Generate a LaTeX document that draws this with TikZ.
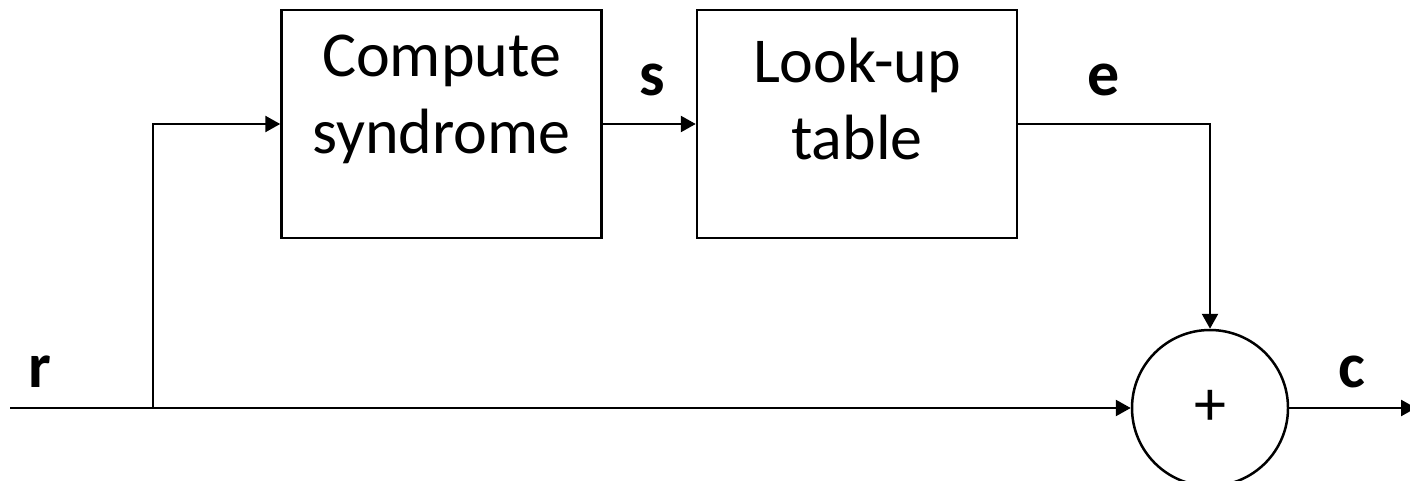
\documentclass[tikz,border=0pt]{standalone}
\usepackage{fontspec}
\setmainfont{Carlito}
\usetikzlibrary{arrows.meta}
\begin{document}
\begin{tikzpicture}[x=1pt,y=-1pt,
  line width=2.5pt,
  big/.style={font=\fontsize{64}{77}\selectfont, align=center, inner sep=0pt},
  lbl/.style={font=\fontsize{64}{77}\selectfont\bfseries, inner sep=0pt},
  blockbox/.style={draw, minimum width=320pt, minimum height=228pt, inner sep=0pt},
  sumcirc/.style={draw, circle, minimum size=156pt, inner sep=0pt},
  arr/.style={-{Triangle[length=15pt,width=16pt]}}]
\useasboundingbox (0,0) rectangle (1410,481);
\node[blockbox] (c1) at (441.5,124) {};
\node[blockbox] (c2) at (857,124) {};
\node[big] (t1) at (441.5,99) {Compute\\syndrome};
\node[big] (t2) at (857,99) {Look-up\\table};
\node[sumcirc] (sum) at (1210,408) {};
\node[big] (plus) at (sum.center) {+};
\coordinate (in) at (10,408);
\coordinate (br) at (153,408);
\coordinate (out) at (1416,408);
\draw[arr] (in) -- (sum.west);
\draw[arr] (br) |- (c1.west);
\draw[arr] (c1.east) -- (c2.west);
\draw[arr] (c2.east) -| (sum.north);
\draw[arr] (sum.east) -- (out);
\node[lbl] (r) at (40,372) {r};
\node[lbl] (s) at (652,80) {s};
\node[lbl] (e) at (1104,80) {e};
\node[lbl] (c) at (1352,372) {c};
\end{tikzpicture}
\end{document}
